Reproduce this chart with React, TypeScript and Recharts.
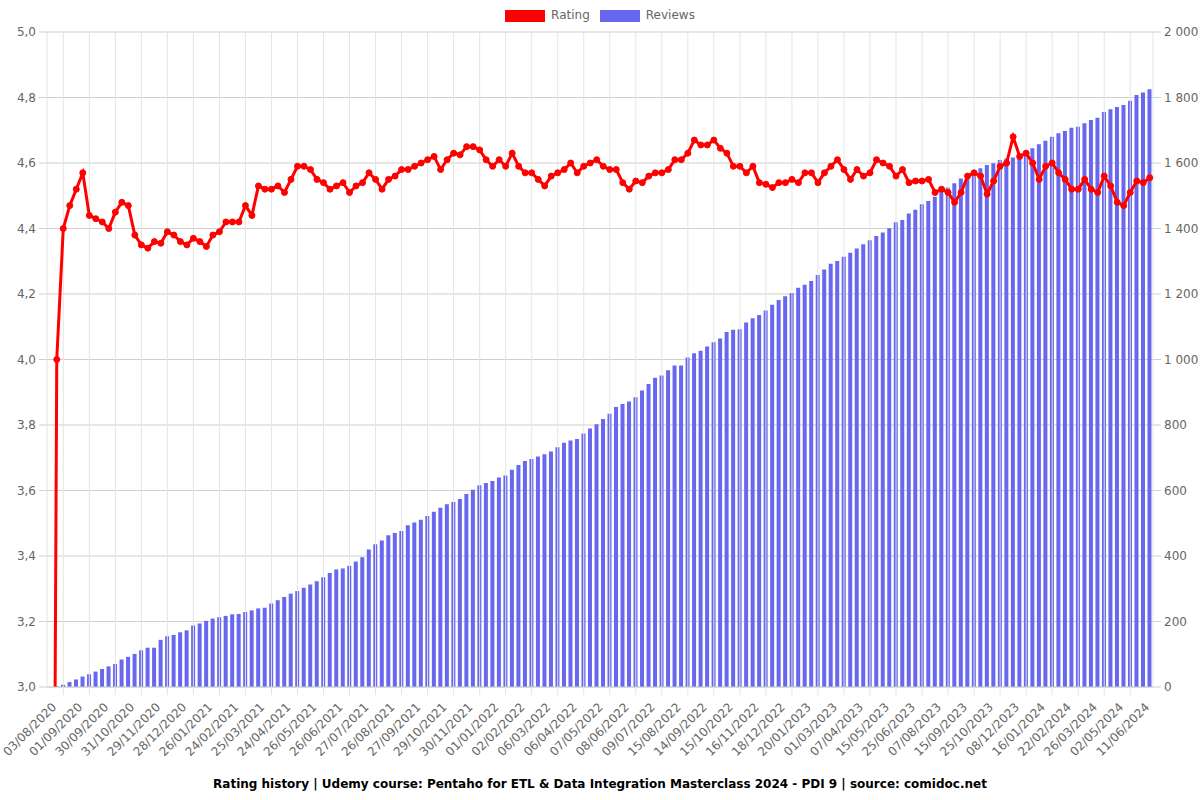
import { ComposedChart, Bar, Line, XAxis, YAxis, CartesianGrid, ReferenceLine } from 'recharts'

const tickLabels = [
  '03/08/2020', '01/09/2020', '30/09/2020', '31/10/2020', '29/11/2020', '28/12/2020',
  '26/01/2021', '24/02/2021', '25/03/2021', '24/04/2021', '26/05/2021', '26/06/2021',
  '27/07/2021', '26/08/2021', '27/09/2021', '29/10/2021', '30/11/2021', '01/01/2022',
  '02/02/2022', '06/03/2022', '06/04/2022', '07/05/2022', '08/06/2022', '09/07/2022',
  '15/08/2022', '14/09/2022', '15/10/2022', '16/11/2022', '18/12/2022', '20/01/2023',
  '01/03/2023', '07/04/2023', '15/05/2023', '25/06/2023', '07/08/2023', '15/09/2023',
  '25/10/2023', '08/12/2023', '16/01/2024', '22/02/2024', '26/03/2024', '02/05/2024',
  '11/06/2024',
]

// average rating per snapshot (first snapshot has no rating yet)
const ratings = [
  0, 4.0, 4.4, 4.47, 4.52, 4.57, 4.44, 4.43, 4.42, 4.4,
  4.45, 4.48, 4.47, 4.38, 4.35, 4.34, 4.36, 4.355, 4.39, 4.38,
  4.36, 4.35, 4.37, 4.36, 4.345, 4.38, 4.39, 4.42, 4.42, 4.42,
  4.47, 4.44, 4.53, 4.52, 4.52, 4.53, 4.51, 4.55, 4.59, 4.59,
  4.58, 4.55, 4.54, 4.52, 4.53, 4.54, 4.51, 4.53, 4.54, 4.57,
  4.55, 4.52, 4.55, 4.56, 4.58, 4.58, 4.59, 4.6, 4.61, 4.62,
  4.58, 4.61, 4.63, 4.625, 4.65, 4.65, 4.64, 4.61, 4.59, 4.61,
  4.59, 4.63, 4.59, 4.57, 4.57, 4.55, 4.53, 4.56, 4.57, 4.58,
  4.6, 4.57, 4.59, 4.6, 4.61, 4.59, 4.58, 4.58, 4.54, 4.52,
  4.545, 4.54, 4.56, 4.57, 4.57, 4.58, 4.61, 4.61, 4.63, 4.67,
  4.655, 4.655, 4.67, 4.645, 4.63, 4.59, 4.59, 4.57, 4.59, 4.54,
  4.535, 4.525, 4.54, 4.54, 4.55, 4.54, 4.57, 4.57, 4.54, 4.57,
  4.59, 4.61, 4.58, 4.55, 4.58, 4.56, 4.57, 4.61, 4.6, 4.59,
  4.56, 4.58, 4.54, 4.545, 4.545, 4.55, 4.51, 4.52, 4.51, 4.48,
  4.51, 4.56, 4.57, 4.56, 4.505, 4.545, 4.59, 4.6, 4.68, 4.62,
  4.63, 4.6, 4.55, 4.59, 4.6, 4.57, 4.55, 4.52, 4.52, 4.55,
  4.52, 4.51, 4.56, 4.53, 4.48, 4.47, 4.51, 4.545, 4.54, 4.555,
]

const reviews = [
  0, 2, 7, 15, 23, 32, 39, 47, 55, 63,
  70, 84, 92, 101, 112, 120, 120, 144, 155, 159,
  167, 173, 188, 194, 202, 209, 213, 217, 222, 223,
  229, 234, 240, 242, 255, 265, 275, 285, 293, 303,
  313, 323, 335, 348, 359, 362, 370, 383, 396, 420,
  436, 447, 463, 470, 476, 494, 502, 511, 522, 535,
  547, 558, 565, 574, 589, 602, 616, 623, 629, 640,
  646, 663, 678, 690, 696, 704, 711, 719, 732, 746,
  753, 757, 774, 789, 802, 818, 834, 855, 864, 872,
  885, 905, 925, 944, 951, 967, 982, 982, 1006, 1019,
  1027, 1040, 1053, 1064, 1084, 1091, 1092, 1113, 1126, 1136,
  1150, 1167, 1182, 1193, 1203, 1219, 1228, 1240, 1258, 1275,
  1292, 1301, 1314, 1326, 1339, 1352, 1364, 1377, 1388, 1401,
  1419, 1426, 1446, 1457, 1474, 1484, 1497, 1512, 1525, 1538,
  1553, 1565, 1576, 1584, 1594, 1599, 1609, 1614, 1617, 1627,
  1637, 1645, 1657, 1668, 1680, 1691, 1698, 1708, 1711, 1721,
  1731, 1738, 1756, 1764, 1771, 1777, 1790, 1808, 1815, 1825,
]

const ratingTicks = [3, 3.2, 3.4, 3.6, 3.8, 4, 4.2, 4.4, 4.6, 4.8, 5]
const reviewTicks = [0, 200, 400, 600, 800, 1000, 1200, 1400, 1600, 1800, 2000]

const data = ratings.map((rating, i) => ({ i, rating, reviews: reviews[i] }))
// a date label every 4th snapshot, grid line + tick mark half way between labels
const axisTicks = tickLabels.flatMap((_, k) => (k < tickLabels.length - 1 ? [k * 4, k * 4 + 2] : [k * 4]))
const gridTicks = axisTicks.filter((t) => t % 4 === 2)

const font = 'DejaVu Sans'
const gridColor = '#e4e4e4'
const hGridColor = '#cfcfcf'

function DateTick({ x, y, payload }: any) {
  if (payload.value % 4 !== 0) {
    // y is below the axis by tickSize + tickMargin (8 + 6)
    return <line x1={x} x2={x} y1={y - 14} y2={y - 6} stroke={gridColor} />
  }
  const tx = x + 4
  const ty = y + 4
  return (
    <text
      x={tx}
      y={ty}
      transform={`rotate(-45 ${tx} ${ty})`}
      textAnchor="end"
      dominantBaseline="central"
      fill="#666"
      fontSize={12}
      fontFamily={font}
    >
      {tickLabels[payload.value / 4]}
    </text>
  )
}

const fmtRating = (v: number) => v.toFixed(1).replace('.', ',')
const fmtReviews = (v: number) => String(v).replace(/\B(?=(\d{3})+(?!\d))/g, ' ')

export default function App() {
  return (
    <div style={{ position: 'absolute', left: 0, top: 0, width: 1200, height: 800, background: '#fff', fontFamily: font }}>
      <div style={{ position: 'absolute', top: 9, left: 0, width: 1200, display: 'flex', justifyContent: 'center', gap: 10, fontSize: 12, color: '#666', lineHeight: '13px' }}>
        <div style={{ display: 'flex', alignItems: 'center', gap: 6 }}>
          <span style={{ width: 40, height: 12, background: '#ff0000', display: 'inline-block' }} />
          Rating
        </div>
        <div style={{ display: 'flex', alignItems: 'center', gap: 6 }}>
          <span style={{ width: 40, height: 12, background: '#6767ef', display: 'inline-block' }} />
          Reviews
        </div>
      </div>
      <ComposedChart width={1200} height={800} data={data} margin={{ top: 32, right: 0, bottom: 33, left: 0 }}>
        <CartesianGrid yAxisId="rating" stroke={hGridColor} vertical={false} />
        {gridTicks.map((t) => (
          <ReferenceLine key={t} x={t} yAxisId="rating" stroke={gridColor} />
        ))}
        <XAxis
          dataKey="i"
          type="category"
          ticks={axisTicks}
          interval={0}
          height={80}
          tickLine={false}
          tickSize={8}
          tickMargin={6}
          axisLine={{ stroke: hGridColor }}
          tick={<DateTick />}
        />
        <YAxis
          yAxisId="rating"
          domain={[3, 5]}
          ticks={ratingTicks}
          allowDataOverflow
          width={47}
          tickSize={8}
          tickMargin={3}
          tickLine={{ stroke: hGridColor }}
          axisLine={{ stroke: gridColor }}
          tickFormatter={fmtRating}
          tick={{ fill: '#666', fontSize: 12, fontFamily: font }}
        />
        <YAxis
          yAxisId="reviews"
          orientation="right"
          domain={[0, 2000]}
          ticks={reviewTicks}
          width={47}
          tickSize={8}
          tickMargin={3}
          tickLine={{ stroke: hGridColor }}
          axisLine={{ stroke: gridColor }}
          tickFormatter={fmtReviews}
          tick={{ fill: '#666', fontSize: 12, fontFamily: font }}
        />
        <Bar yAxisId="reviews" dataKey="reviews" name="Reviews" fill="#6767ef" barSize={4} isAnimationActive={false} />
        <Line
          yAxisId="rating"
          dataKey="rating"
          name="Rating"
          type="linear"
          stroke="#ff0000"
          strokeWidth={3}
          dot={{ r: 3, fill: '#ff0000', stroke: '#ff0000', strokeWidth: 1 }}
          isAnimationActive={false}
        />
      </ComposedChart>
      <div style={{ position: 'absolute', top: 777, left: 0, width: 1200, textAlign: 'center', fontSize: 12, fontWeight: 'bold', color: '#000' }}>
        Rating history | Udemy course: Pentaho for ETL &amp; Data Integration Masterclass 2024 - PDI 9 | source: comidoc.net
      </div>
    </div>
  )
}
